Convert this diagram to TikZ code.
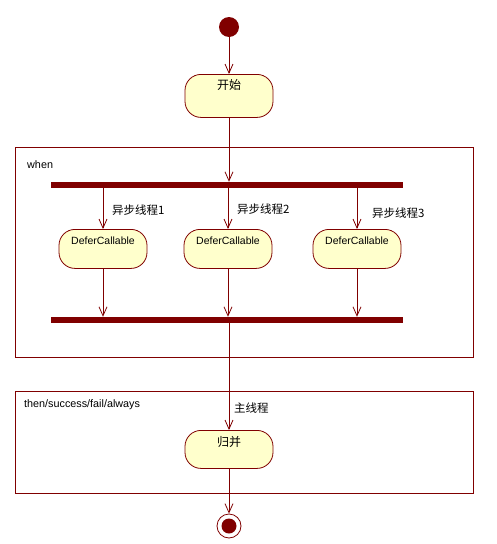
\documentclass[tikz,border=0pt]{standalone}
\usepackage{fontspec}
\setmainfont{Liberation Sans}
\newfontfamily\cjk{Noto Sans CJK SC}
\usetikzlibrary{arrows.meta}
\definecolor{umlred}{HTML}{800000}
\definecolor{umlfill}{HTML}{FFFFCC}
\begin{document}
\begin{tikzpicture}[x=1pt,y=-1pt,
  flow/.style={draw=umlred, line width=0.8pt,
    -{Straight Barb[length=9pt,width=8pt,line width=0.8pt]}},
  activity/.style={draw=umlred, fill=umlfill, line width=0.8pt,
    rounded corners=16pt, minimum width=88pt, inner sep=0pt, anchor=north},
  cnact/.style={activity, font=\cjk\fontsize{12}{14}\selectfont},
  enact/.style={activity, font=\fontsize{10.5}{12}\selectfont,
    text height=14.8pt, text depth=24.2pt},
  bar/.style={fill=umlred, inner sep=0pt, minimum width=352pt, minimum height=6pt},
  frame/.style={draw=umlred, line width=0.8pt, inner sep=0pt, minimum width=458pt},
  cnlabel/.style={font=\cjk\fontsize{11.5}{13}\selectfont, inner sep=0pt, anchor=west},
  enlabel/.style={font=\fontsize{10.8}{12}\selectfont, inner sep=0pt, anchor=west},
]
\useasboundingbox[fill=white] (0,0) rectangle (496,544);

% partitions
\node[frame, minimum height=210pt] (whenframe) at (244,252) {};
\node[frame, minimum height=102pt] (thenframe) at (244,442) {};
\node[enlabel] (whentext) at (27,165) {when};
\node[enlabel] (thentext) at (24,405) {then/success/fail/always};

% initial node and first activity
\node[circle, fill=umlred, minimum size=20pt, inner sep=0pt] (start) at (229,27) {};
\node[cnact, text height=15.5pt, text depth=27.5pt] (begin) at (229,74) {开始};

% fork / join bars
\node[bar] (fork) at (227,185) {};
\node[bar] (join) at (227,320) {};

% parallel activities
\node[enact] (d1) at (103,229) {DeferCallable};
\node[enact] (d2) at (228,229) {DeferCallable};
\node[enact] (d3) at (357,229) {DeferCallable};

\node[cnlabel] (l1) at (112,210) {异步线程1};
\node[cnlabel] (l2) at (237,209) {异步线程2};
\node[cnlabel] (l3) at (372,213) {异步线程3};

% merge activity and final node
\node[cnact, text height=16pt, text depth=22pt] (merge) at (229,430) {归并};
\node[cnlabel] (lmain) at (234,408) {主线程};
\node[circle, draw=umlred, fill=white, line width=0.8pt, minimum size=24pt, inner sep=0pt] (finish) at (229,526) {};
\node[circle, fill=umlred, minimum size=15pt, inner sep=0pt] (finishdot) at (finish) {};

% control flows
\draw[flow] (start) -- (start |- begin.north);
\draw[flow] (begin.south) -- (begin.south |- fork.north);
\draw[flow] (fork.south -| d1.north) -- (d1.north);
\draw[flow] (fork.south -| d2.north) -- (d2.north);
\draw[flow] (fork.south -| d3.north) -- (d3.north);
\draw[flow] (d1.south) -- (d1.south |- join.north);
\draw[flow] (d2.south) -- (d2.south |- join.north);
\draw[flow] (d3.south) -- (d3.south |- join.north);
\draw[flow] (join.south -| merge.north) -- (merge.north);
\draw[flow] (merge.south) -- (finish.north);
\end{tikzpicture}
\end{document}
